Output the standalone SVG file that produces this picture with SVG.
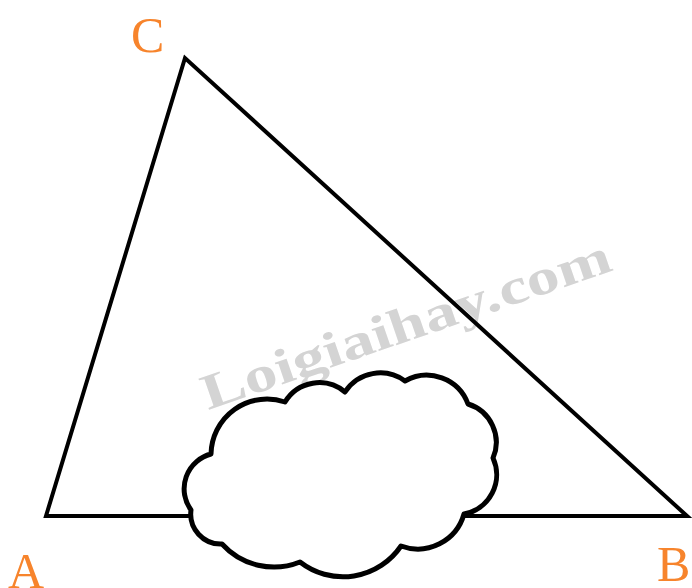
<svg xmlns="http://www.w3.org/2000/svg" width="692" height="588" viewBox="0 0 692 588">
<style>
.edge{fill:none;stroke:#000;stroke-width:4;stroke-linejoin:miter;stroke-linecap:square}
.lbl{font-family:"Liberation Serif","Times New Roman",serif;font-size:50px;fill:#F7842C}
.wm{font-family:"Liberation Serif","Times New Roman",serif;font-weight:bold;font-size:50px;fill:#d4d4d4}
.cloud{fill:#fff;stroke:#000;stroke-width:5;stroke-linejoin:round}
</style>
<rect width="692" height="588" fill="#fff"/>
<text class="wm" x="208" y="410" transform="rotate(-19 208 410)" textLength="430" lengthAdjust="spacingAndGlyphs">Loigiaihay.com</text>
<g id="connectors">
<path class="edge" d="M46,516 L687,516 L185,58 Z"/>
</g>
<g id="cloud">
<path class="cloud" d="M191,510 A36,36 0 0 1 211,454 A56,56 0 0 1 285,402 A40,40 0 0 1 345,392 A42,42 0 0 1 405,381 A44,44 0 0 1 468,404 A40,40 0 0 1 493,458 A40,40 0 0 1 464,514 A48,48 0 0 1 401,546 A70,70 0 0 1 300,562 A70,70 0 0 1 222,544 A30,30 0 0 1 191,510 Z"/>
</g>
<g id="A"><text class="lbl" x="8" y="588">A</text></g>
<g id="B"><text class="lbl" x="657" y="581">B</text></g>
<g id="C"><text class="lbl" x="131" y="52">C</text></g>
</svg>
